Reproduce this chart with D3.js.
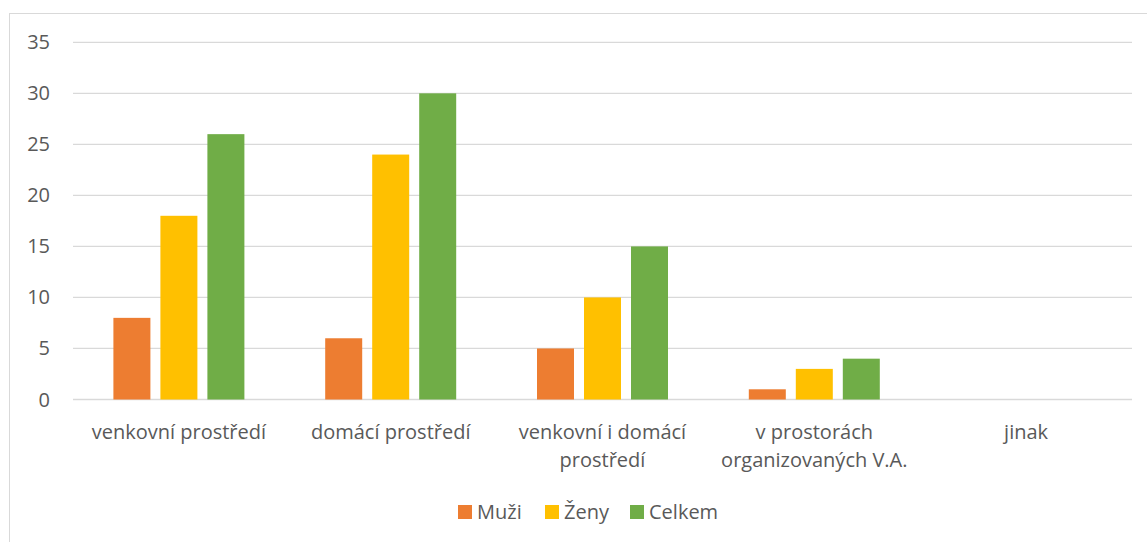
<!DOCTYPE html>
<html>
<head>
<meta charset="utf-8">
<script src="https://cdn.jsdelivr.net/npm/d3@7"></script>
<style>
  body { margin: 0; background: #fff; }
  text { font-family: "Open Sans", "Noto Sans", sans-serif; fill: #595959; }
</style>
</head>
<body>
<svg width="1147" height="542"></svg>
<script>
// data
const categories = [
  ["venkovní prostředí"],
  ["domácí prostředí"],
  ["venkovní i domácí", "prostředí"],
  ["v prostorách", "organizovaných V.A."],
  ["jinak"]
];
const seriesNames = ["Muži", "Ženy", "Celkem"];
const muzi = [8, 6, 5, 1, 0];
const zeny = [18, 24, 10, 3, 0];
const celkem = [26, 30, 15, 4, 0];
const yTicks = [0, 5, 10, 15, 20, 25, 30, 35];
const colors = ["#ED7D31", "#FFC000", "#70AD47"];

const series = [muzi, zeny, celkem];
const svg = d3.select("svg");

// chart frame (cut off at right and bottom like the screenshot)
svg.append("rect")
  .attr("x", 9.5).attr("y", 13.5)
  .attr("width", 1150).attr("height", 540)
  .attr("fill", "none").attr("stroke", "#d9d9d9");

const plotLeft = 73, plotRight = 1132, plotTop = 42.3, plotBottom = 399.5;

const x = d3.scaleBand()
  .domain(d3.range(categories.length))
  .range([plotLeft, plotRight]);

const y = d3.scaleLinear().domain([0, 35]).range([plotBottom, plotTop]);

// gridlines
svg.append("g")
  .selectAll("line")
  .data(yTicks)
  .enter()
  .append("line")
  .attr("x1", plotLeft).attr("x2", plotRight)
  .attr("y1", d => y(d)).attr("y2", d => y(d))
  .attr("stroke", "#d9d9d9")
  .attr("stroke-width", 1.3);

// y tick labels
svg.append("g")
  .selectAll("text")
  .data(yTicks)
  .enter()
  .append("text")
  .attr("x", 50)
  .attr("y", d => y(d))
  .attr("dy", "0.35em")
  .attr("text-anchor", "end")
  .style("font-size", "20px")
  .text(d => d);

// bars
const barW = 37, step = 47;
const groups = svg.append("g");
series.forEach((vals, s) => {
  groups.append("g")
    .selectAll("rect")
    .data(vals)
    .enter()
    .append("rect")
    .attr("x", (d, i) => x(i) + x.bandwidth() / 2 + (s - 1) * step - barW / 2)
    .attr("y", d => y(d))
    .attr("width", barW)
    .attr("height", d => plotBottom - y(d))
    .attr("fill", colors[s]);
});

// category labels
svg.append("g")
  .selectAll("text")
  .data(categories)
  .enter()
  .append("text")
  .attr("text-anchor", "middle")
  .attr("x", (d, i) => x(i) + x.bandwidth() / 2)
  .attr("y", 439)
  .style("font-size", "20px")
  .each(function (lines) {
    const cx = d3.select(this).attr("x");
    d3.select(this).selectAll("tspan")
      .data(lines)
      .enter()
      .append("tspan")
      .attr("x", cx)
      .attr("dy", (d, j) => j === 0 ? 0 : 28)
      .text(d => d);
  });

// legend
const legendX = [458, 545, 630];
const legend = svg.append("g");
seriesNames.forEach((name, s) => {
  legend.append("rect")
    .attr("x", legendX[s]).attr("y", 505)
    .attr("width", 14).attr("height", 14)
    .attr("fill", colors[s]);
  legend.append("text")
    .attr("x", legendX[s] + 19).attr("y", 512)
    .attr("dy", "0.35em")
    .style("font-size", "20px")
    .text(name);
});
</script>
</body>
</html>
